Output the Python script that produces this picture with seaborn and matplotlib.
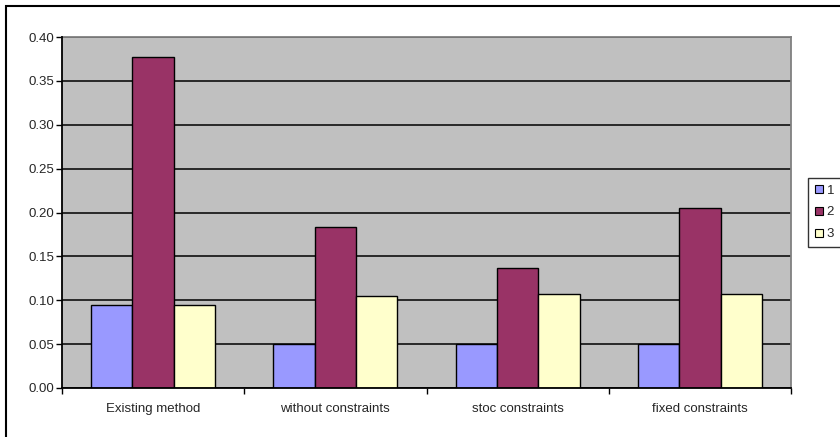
import matplotlib
matplotlib.use("Agg")
import matplotlib.pyplot as plt
from matplotlib.patches import Patch, Rectangle
import pandas as pd
import seaborn as sns

# Chart data
methods = ["Existing method", "without constraints", "stoc constraints", "fixed constraints"]
series_names = ["1", "2", "3"]
series_1 = [0.095, 0.050, 0.050, 0.050]
series_2 = [0.377, 0.184, 0.137, 0.205]
series_3 = [0.095, 0.105, 0.107, 0.107]
y_ticks = [0.00, 0.05, 0.10, 0.15, 0.20, 0.25, 0.30, 0.35, 0.40]
colors = ["#9999FF", "#993366", "#FFFFCC"]

rows = []
for name, vals in zip(series_names, [series_1, series_2, series_3]):
    for m, v in zip(methods, vals):
        rows.append({"method": m, "series": name, "value": v})
df = pd.DataFrame(rows)

sns.set_style("white")
plt.rcParams["font.family"] = ["Liberation Sans", "DejaVu Sans"]

W, H = 840, 437
fig = plt.figure(figsize=(W / 100, H / 100), dpi=100)
ax = fig.add_axes([62 / W, 1 - 388 / H, (791 - 62) / W, (388 - 37) / H])
ax.set_facecolor("#C0C0C0")

sns.barplot(data=df, x="method", y="value", hue="series", order=methods,
            hue_order=series_names, palette=colors, saturation=1,
            width=0.68, edgecolor="black", linewidth=1.0, ax=ax,
            legend=False, errorbar=None)

ax.set_ylim(0, 0.40)
ax.set_xlim(-0.5, len(methods) - 0.5)
ax.set_yticks(y_ticks)
ax.set_yticklabels([f"{t:.2f}" for t in y_ticks])
ax.yaxis.grid(True, color="black", linewidth=1.1)
ax.set_axisbelow(True)
ax.set_xlabel("")
ax.set_ylabel("")

# Category ticks sit at group boundaries; labels are centred under groups
ax.set_xticks([i - 0.5 for i in range(len(methods) + 1)], minor=False)
ax.set_xticklabels([""] * (len(methods) + 1))
ax.set_xticks(range(len(methods)), minor=True)
ax.set_xticklabels(methods, minor=True)
ax.tick_params(axis="x", which="major", direction="out", length=4, width=1, color="black")
ax.tick_params(axis="x", which="minor", length=0, pad=11, labelsize=9.5)
ax.tick_params(axis="y", direction="out", length=4, width=1, color="black", labelsize=9.5, pad=1.5)
ax.tick_params(left=True, bottom=True)

for side in ["left", "bottom"]:
    ax.spines[side].set_color("black")
    ax.spines[side].set_linewidth(1.3)
for side in ["top", "right"]:
    ax.spines[side].set_color("#808080")
    ax.spines[side].set_linewidth(1.3)
ax.spines["left"].set_zorder(5)
ax.spines["bottom"].set_zorder(5)

handles = [Patch(facecolor=c, edgecolor="black", linewidth=0.8, label=n)
           for c, n in zip(colors, series_names)]
leg = fig.legend(handles=handles, loc="upper left",
                 bbox_to_anchor=(808 / W, 1 - 178 / H), frameon=True,
                 fancybox=False, edgecolor="black", fontsize=9.5,
                 handlelength=0.6, handleheight=0.6, handletextpad=0.3,
                 labelspacing=0.75, borderpad=0.5, borderaxespad=0)
leg.get_frame().set_linewidth(1.0)

# Outer chart frame
fig.patches.append(Rectangle((6 / W, -0.1), 1.2, 1 - 6 / H + 0.1,
                             transform=fig.transFigure, fill=False,
                             edgecolor="black", linewidth=1.5))

fig.savefig("out.png", dpi=100, facecolor="white")
